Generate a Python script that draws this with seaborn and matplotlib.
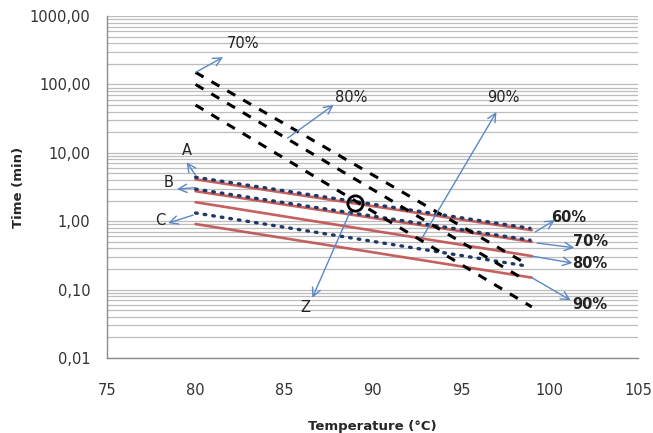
import matplotlib
matplotlib.use("Agg")
import matplotlib.pyplot as plt
import seaborn as sns
from matplotlib.ticker import FixedLocator, FuncFormatter, LogLocator, NullFormatter

# dashed black lines (start / end points), 70 %, 80 %, 90 %
dash_x = [[80, 98.8], [80, 98.4], [80, 99.0]]
dash_y = [[150, 0.23], [100, 0.15], [50, 0.056]]

# solid red lines, 60 %, 70 %, 80 %, 90 %
red_x = [[80, 99], [80, 99], [80, 99], [80, 99]]
red_y = [[4.1, 0.74], [2.75, 0.50], [1.9, 0.31], [0.91, 0.15]]

# dotted navy lines A, B, C
dot_x = [[80, 98.9], [80, 98.9], [80, 98.8]]
dot_y = [[4.4, 0.79], [2.95, 0.53], [1.32, 0.22]]

# marked point "O"
circle_x = [89.0]
circle_y = [1.85]

# annotations: text, label position, arrow tail, arrow head, bold
notes = [
    ("70%", (82.7, 390), (80.0, 150), (81.55, 250), False),
    ("80%", (88.8, 65), (85.2, 16.4), (87.8, 50), False),
    ("90%", (97.4, 65), (92.8, 0.57), (97.0, 39.5), False),
    ("A", (79.5, 11), (80.0, 4.7), (79.5, 7.3), False),
    ("B", (78.5, 3.7), (80.0, 3.1), (78.95, 2.95), False),
    ("C", (78.0, 1.04), (79.86, 1.23), (78.45, 0.94), False),
    ("Z", (86.2, 0.054), (88.7, 1.32), (86.6, 0.076), False),
    ("60%", (101.1, 1.15), (99.2, 0.70), (100.3, 1.04), True),
    ("70%", (102.3, 0.51), (99.3, 0.48), (101.4, 0.41), True),
    ("80%", (102.3, 0.245), (99.0, 0.31), (101.3, 0.245), True),
    ("90%", (102.3, 0.060), (99.0, 0.15), (101.2, 0.070), True),
]

sns.set_style("white")
plt.rcParams["font.family"] = ["DejaVu Sans"]

fig = plt.figure(figsize=(6.53, 4.33), dpi=100)
ax = fig.add_axes([0.164, 0.173, 0.813, 0.79])

for xs, ys in zip(red_x, red_y):
    sns.lineplot(x=xs, y=ys, ax=ax, color="#C0504D", lw=1.9, alpha=0.9)

for xs, ys in zip(dot_x, dot_y):
    sns.lineplot(x=xs, y=ys, ax=ax, color="#1F3864", lw=2.4,
                 linestyle=(0, (0.5, 2.1)), dash_capstyle="round")

for xs, ys in zip(dash_x, dash_y):
    sns.lineplot(x=xs, y=ys, ax=ax, color="black", lw=2.2, linestyle=(0, (3, 3)))

ax.plot(circle_x, circle_y, marker="o", ms=11, mfc="none", mec="black", mew=2, ls="none")

arrow_color = "#5B87C5"
for text, pos, tail, head, bold in notes:
    ax.annotate("", xy=head, xytext=tail,
                arrowprops=dict(arrowstyle="->,head_length=0.6,head_width=0.3",
                                color=arrow_color, lw=1, shrinkA=0, shrinkB=0))
    ax.text(pos[0], pos[1], text, ha="center", va="center", fontsize=10.5,
            fontweight="bold" if bold else "normal", color="#222222")

ax.set_yscale("log")
ax.set_xlim(75, 105)
ax.set_ylim(0.01, 1000)
ax.xaxis.set_major_locator(FixedLocator([75, 80, 85, 90, 95, 100, 105]))
ax.yaxis.set_major_locator(LogLocator(base=10, numticks=10))
ax.yaxis.set_minor_locator(LogLocator(base=10, subs=range(2, 10), numticks=20))
ax.yaxis.set_minor_formatter(NullFormatter())
ax.yaxis.set_major_formatter(FuncFormatter(lambda v, p: f"{v:.2f}".replace(".", ",")))

ax.grid(True, axis="y", which="both", color="#BDBDBD", lw=0.9)
ax.grid(False, axis="x")
ax.set_axisbelow(True)
ax.tick_params(axis="both", which="both", length=0, labelsize=10.5, colors="#333333")
ax.tick_params(axis="y", pad=12)
ax.tick_params(axis="x", pad=18)

for side in ["top", "right"]:
    ax.spines[side].set_visible(False)
for side in ["left", "bottom"]:
    ax.spines[side].set_color("#8C8C8C")
    ax.spines[side].set_linewidth(1)

ax.set_xlabel("Temperature (°C)", fontsize=9.5, fontweight="bold", labelpad=16)
ax.set_ylabel("Time (min)", fontsize=9.5, fontweight="bold")
ax.yaxis.set_label_coords(-0.155, 0.5)

fig.savefig("out.png", dpi=100)
